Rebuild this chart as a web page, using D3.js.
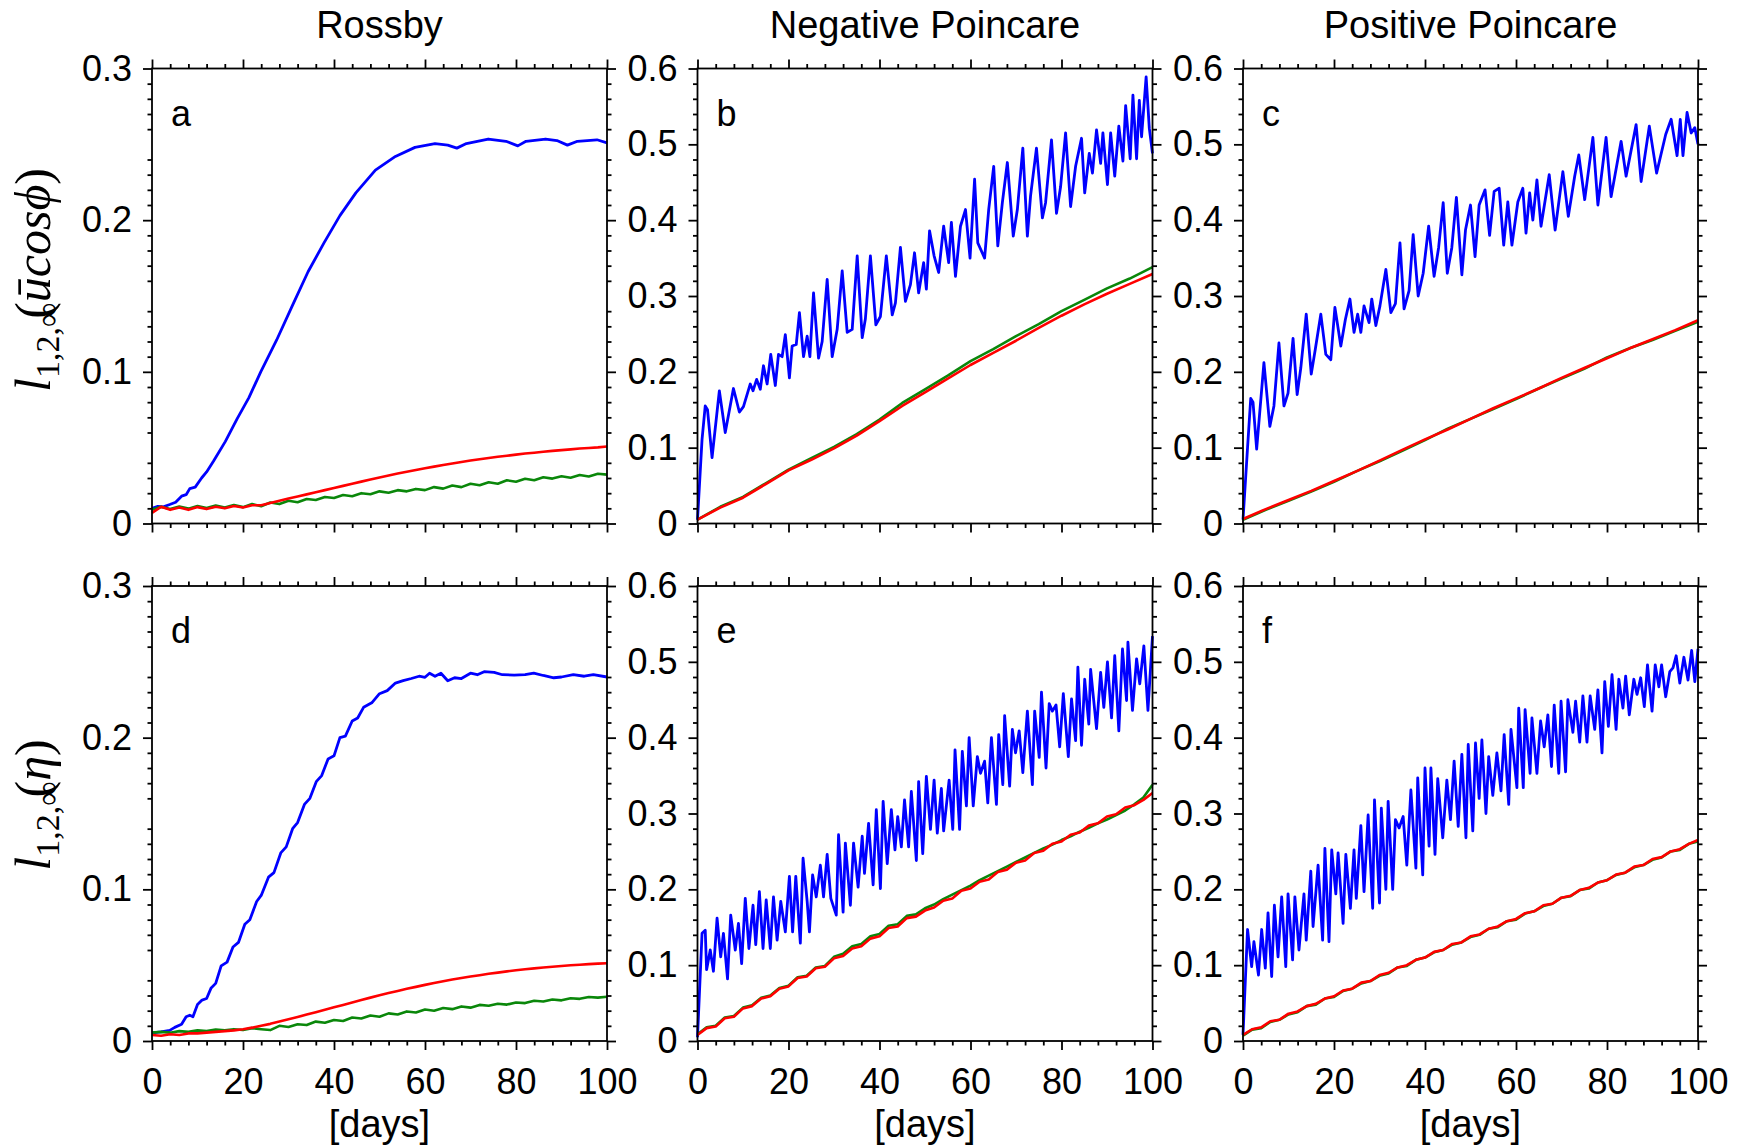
<!DOCTYPE html>
<html>
<head>
<meta charset="utf-8">
<script src="https://cdn.jsdelivr.net/npm/d3@7"></script>
<style>
body { margin: 0; background: #fff; }
text { font-family: "Liberation Sans", Arial, sans-serif; fill: #000; }
</style>
</head>
<body>
<script>

// column titles and panel letters
var columnTitles = ["Rossby", "Negative Poincare", "Positive Poincare"];
var panelLetters = ["a", "b", "c", "d", "e", "f"];

// tick values
var xMajor = [0, 20, 40, 60, 80, 100];
var yMajorSmall = [0, 0.1, 0.2, 0.3];
var yMajorBig = [0, 0.1, 0.2, 0.3, 0.4, 0.5, 0.6];

// evenly spaced days used by the slow lines
var days2 = [0,2,4,6,8,10,12,14,16,18,20,22,24,26,28,30,32,34,36,38,40,42,44,46,48,50,
             52,54,56,58,60,62,64,66,68,70,72,74,76,78,80,82,84,86,88,90,92,94,96,98,100];
var days5 = [0,5,10,15,20,25,30,35,40,45,50,55,60,65,70,75,80,85,90,95,100];

// ---- panel a (Rossby, u cos phi)
var blueA = [[0,0.010],[1.3,0.0113],[2.5,0.011],[3.9,0.0125],[5.2,0.014],[6.5,0.018],[7.5,0.019],[8.3,0.023],
  [9.5,0.024],[10.9,0.030],[12,0.034],[13.5,0.041],[16.1,0.054],[18.7,0.069],[21.3,0.083],[23.9,0.100],
  [27.4,0.121],[30.9,0.144],[34.3,0.166],[37.8,0.185],[41.3,0.203],[44.8,0.218],[49.1,0.233],[53.5,0.242],
  [57.8,0.248],[62.2,0.2505],[65,0.2495],[67,0.2475],[69.1,0.2505],[73.9,0.2535],[77.8,0.252],[80.4,0.249],
  [82.2,0.252],[86.5,0.2535],[89,0.2525],[91.3,0.2495],[93.5,0.252],[97.8,0.253],[100,0.251]];
var greenA = [0.009,0.011,0.0095,0.0112,0.0098,0.0115,0.0102,0.0118,0.0105,0.0122,0.0108,0.0128,0.0114,0.0138,
  0.0128,0.0150,0.0140,0.0162,0.0155,0.0175,0.0168,0.0188,0.0180,0.0200,0.0193,0.0212,0.0203,0.0220,0.0212,
  0.0228,0.0220,0.0240,0.0230,0.0250,0.0240,0.0262,0.0252,0.0272,0.0262,0.0285,0.0275,0.0295,0.0285,0.0305,
  0.0296,0.0312,0.0302,0.0320,0.0310,0.0328,0.0322];
var redA = [0.007,0.011,0.009,0.0105,0.009,0.0108,0.0095,0.011,0.010,0.0115,0.0105,0.012,0.012,0.0135,0.0150,
  0.0165,0.0178,0.0192,0.0206,0.0220,0.0234,0.0248,0.0262,0.0276,0.0290,0.0303,0.0316,0.0329,0.0341,0.0353,
  0.0364,0.0375,0.0386,0.0396,0.0406,0.0415,0.0424,0.0432,0.0440,0.0447,0.0454,0.0461,0.0467,0.0473,0.0479,
  0.0484,0.0489,0.0494,0.0498,0.0502,0.0508];

// ---- panel b (Negative Poincare, u cos phi)
var blueB = [[0,0.005],[1,0.111],[1.7,0.155],[2.2,0.150],[3.2,0.087],[4.8,0.175],[6.1,0.120],[7.9,0.178],
  [9.2,0.147],[10.1,0.154],[11.6,0.184],[12.2,0.175],[13,0.19],[13.8,0.177],[14.5,0.208],[15.3,0.184],
  [16.1,0.223],[17.1,0.182],[17.8,0.223],[18.6,0.22],[19.3,0.249],[20.2,0.192],[20.8,0.234],[21.7,0.236],
  [22.4,0.278],[23.3,0.22],[24.1,0.247],[24.7,0.22],[25.5,0.304],[26.6,0.218],[27.4,0.24],[28.5,0.322],
  [29.6,0.22],[30.7,0.256],[31.8,0.333],[32.9,0.252],[34,0.256],[35.1,0.353],[36.2,0.245],[36.9,0.27],
  [38,0.353],[39.2,0.262],[40.2,0.273],[41.5,0.353],[42.8,0.275],[43.5,0.291],[44.6,0.364],[45.7,0.293],
  [46.8,0.315],[47.7,0.357],[48.6,0.304],[49.7,0.344],[50.3,0.309],[51,0.386],[52,0.353],[53,0.331],
  [54.1,0.392],[55.2,0.344],[55.8,0.397],[56.7,0.326],[57.8,0.392],[58.9,0.414],[59.9,0.35],[60.9,0.454],
  [61.6,0.37],[63.1,0.35],[64,0.414],[65.1,0.471],[66,0.366],[67,0.423],[68.1,0.476],[69.4,0.379],
  [70.3,0.414],[71.5,0.495],[72.5,0.379],[73.2,0.432],[74.5,0.495],[75.8,0.403],[76.5,0.423],[77.8,0.506],
  [78.9,0.409],[79.8,0.444],[80.9,0.515],[82,0.418],[83.1,0.471],[84.4,0.508],[85.1,0.436],[86.1,0.488],
  [86.8,0.462],[87.7,0.519],[88.6,0.475],[89.1,0.515],[90.1,0.447],[90.8,0.515],[91.7,0.458],[92.6,0.524],
  [93.5,0.478],[94.1,0.551],[95.1,0.481],[95.7,0.565],[96.5,0.481],[97.1,0.558],[97.6,0.51],[98.6,0.589],
  [99.3,0.521],[100,0.488]];
var greenB = [0.005,0.022,0.035,0.053,0.071,0.086,0.101,0.118,0.137,0.159,0.177,0.195,0.214,0.230,0.247,
  0.263,0.280,0.295,0.310,0.323,0.338];
var redB = [0.005,0.021,0.034,0.052,0.070,0.084,0.099,0.116,0.135,0.155,0.173,0.191,0.209,0.225,0.241,
  0.258,0.274,0.289,0.303,0.316,0.329];

// ---- panel c (Positive Poincare, u cos phi)
var blueC = [[0,0.005],[1,0.10],[1.7,0.165],[2.2,0.16],[3,0.098],[4.6,0.212],[5.9,0.128],[6.8,0.155],
  [7.9,0.238],[9,0.155],[9.9,0.172],[11,0.244],[11.9,0.17],[12.7,0.205],[13.9,0.276],[15,0.197],[15.9,0.23],
  [17.1,0.276],[18.2,0.223],[19.3,0.216],[20.2,0.285],[21.5,0.234],[22.5,0.269],[23.5,0.296],[24.4,0.252],
  [25.2,0.276],[25.9,0.252],[26.6,0.287],[27.7,0.265],[28.3,0.296],[29.2,0.261],[30.1,0.287],[31.4,0.335],
  [32.5,0.278],[33.5,0.29],[34.5,0.37],[35.4,0.283],[36.5,0.307],[37.4,0.381],[38.5,0.3],[39.6,0.33],
  [40.8,0.392],[42,0.326],[43,0.364],[44,0.423],[44.9,0.33],[45.9,0.364],[46.9,0.43],[48.1,0.328],
  [48.9,0.387],[50,0.42],[51,0.352],[51.9,0.42],[53.2,0.44],[54.2,0.38],[55.2,0.438],[56.3,0.442],
  [57.3,0.367],[58.2,0.424],[59.1,0.367],[60.4,0.424],[61.5,0.442],[62.2,0.383],[63,0.436],[63.7,0.4],
  [64.6,0.453],[65.5,0.392],[67.3,0.46],[68.6,0.387],[70.3,0.464],[71.5,0.405],[72.9,0.458],[73.8,0.486],
  [75.1,0.427],[76.9,0.509],[78,0.42],[79.8,0.509],[80.9,0.431],[83.1,0.504],[84.2,0.458],[86.4,0.526],
  [87.5,0.451],[89.3,0.524],[90.9,0.462],[92.9,0.513],[94.1,0.533],[95.4,0.485],[96.1,0.533],[96.7,0.485],
  [97.6,0.542],[98.5,0.515],[99.3,0.522],[100,0.50]];
var greenC = [0.005,0.018,0.030,0.042,0.055,0.069,0.082,0.096,0.110,0.125,0.138,0.151,0.164,0.178,0.191,
  0.204,0.219,0.231,0.242,0.254,0.266];
var redC = [0.006,0.019,0.031,0.043,0.056,0.069,0.083,0.097,0.111,0.124,0.138,0.152,0.165,0.178,0.192,
  0.205,0.218,0.231,0.243,0.255,0.268];

// ---- panel d (Rossby, eta)
var blueD = [[0,0.0054],[2,0.006],[3.9,0.007],[5,0.009],[6.5,0.011],[7.5,0.016],[8.3,0.017],[9,0.016],
  [10,0.024],[11,0.027],[12,0.028],[13,0.035],[14,0.038],[15.2,0.0495],[16.5,0.052],[17.8,0.062],[19,0.065],
  [20.4,0.077],[21.5,0.080],[23,0.092],[24,0.096],[25.6,0.108],[26.8,0.111],[28.3,0.124],[29.5,0.128],
  [30.9,0.140],[32,0.144],[33.5,0.156],[34.7,0.160],[36.1,0.171],[37.3,0.175],[38.7,0.186],[40,0.188],
  [41.3,0.200],[42.5,0.201],[44,0.211],[45.2,0.213],[46.5,0.220],[48.3,0.223],[50,0.229],[51.7,0.231],
  [53.5,0.236],[55.2,0.2376],[57,0.239],[58.7,0.2405],[60,0.2398],[61,0.2425],[62.2,0.2405],[63.5,0.2425],
  [65,0.2375],[66.5,0.2395],[68,0.239],[70,0.2425],[71.5,0.2415],[73,0.2435],[75.2,0.243],[77,0.2415],
  [79.6,0.2413],[82,0.2415],[83.9,0.2426],[86,0.241],[88.3,0.2395],[90,0.24],[92.6,0.2415],[95,0.2405],
  [97,0.2415],[100,0.240]];
var greenD = [0.0055,0.006,0.0055,0.0065,0.006,0.007,0.0065,0.0075,0.007,0.0078,0.0072,0.0085,0.0078,0.0072,
  0.0100,0.0092,0.0110,0.0105,0.0128,0.0120,0.0138,0.0132,0.0155,0.0148,0.0168,0.0160,0.0182,0.0175,0.0195,
  0.0188,0.0208,0.0200,0.0218,0.0210,0.0228,0.0220,0.0238,0.0232,0.0246,0.0240,0.0254,0.0250,0.0265,0.0260,
  0.0274,0.0268,0.0282,0.0278,0.0290,0.0286,0.0292];
var redD = [0.004,0.0035,0.0045,0.004,0.005,0.005,0.0055,0.006,0.0065,0.007,0.0078,0.0088,0.010,0.0113,0.0128,
  0.0143,0.0158,0.0174,0.0190,0.0206,0.0222,0.0238,0.0254,0.0270,0.0286,0.0301,0.0316,0.0330,0.0344,0.0357,
  0.0370,0.0382,0.0394,0.0405,0.0415,0.0425,0.0434,0.0443,0.0451,0.0459,0.0466,0.0473,0.0479,0.0485,0.0490,
  0.0495,0.0499,0.0503,0.0507,0.0510,0.0513];

// ---- panel e (Negative Poincare, eta)
var blueE = [[0,0.005],[1,0.142],[1.7,0.146],[2,0.094],[2.8,0.12],[3.5,0.092],[4.3,0.162],[5.1,0.111],
  [5.7,0.142],[6.6,0.082],[7.3,0.166],[8.3,0.12],[9,0.155],[9.7,0.102],[10.5,0.188],[11.3,0.122],[12.2,0.179],
  [12.8,0.127],[13.6,0.197],[14.4,0.122],[15.1,0.186],[16,0.122],[16.7,0.19],[17.5,0.133],[18.3,0.184],
  [19.3,0.144],[20.2,0.217],[20.9,0.144],[21.6,0.217],[22.6,0.129],[23.2,0.241],[24.1,0.184],[24.6,0.144],
  [25.3,0.219],[26.1,0.19],[27,0.232],[27.7,0.19],[28.5,0.246],[29.3,0.188],[30.5,0.166],[31,0.272],
  [32,0.17],[32.5,0.261],[33.6,0.179],[34.3,0.261],[35.3,0.203],[36.2,0.27],[36.7,0.221],[37.6,0.287],
  [38.6,0.206],[39.3,0.305],[40.2,0.201],[40.8,0.316],[41.7,0.234],[42.6,0.305],[43.4,0.252],[44,0.296],
  [44.8,0.256],[45.5,0.318],[46.4,0.256],[47,0.329],[48.1,0.238],[48.6,0.342],[49.5,0.247],[50.3,0.349],
  [51.2,0.279],[52,0.344],[52.7,0.274],[53.6,0.333],[54.1,0.277],[55.3,0.344],[56.1,0.279],[56.6,0.384],
  [57.6,0.279],[58.2,0.382],[59.1,0.31],[59.7,0.4],[60.6,0.31],[61.5,0.375],[62.2,0.353],[63.1,0.369],
  [63.8,0.314],[64.6,0.4],[65.7,0.312],[66.2,0.404],[67.1,0.338],[67.5,0.429],[68.6,0.336],[69.2,0.411],
  [69.9,0.38],[70.7,0.409],[71.5,0.354],[72.5,0.435],[73.6,0.338],[74.1,0.435],[75.1,0.374],[75.6,0.46],
  [76.6,0.36],[77.3,0.445],[78,0.435],[78.8,0.443],[79.6,0.388],[80.4,0.458],[81.5,0.375],[82.2,0.451],
  [83.1,0.396],[83.6,0.493],[84.4,0.39],[85.1,0.477],[86,0.418],[86.4,0.49],[87.7,0.412],[88.6,0.486],
  [89.3,0.44],[90.1,0.5],[91,0.426],[91.7,0.508],[92.6,0.409],[93.4,0.517],[94.3,0.449],[94.6,0.526],
  [95.6,0.436],[96.5,0.504],[97.2,0.471],[98.1,0.521],[99,0.436],[100,0.534]];
var greenE = [0.009,0.018,0.020,0.031,0.033,0.044,0.047,0.057,0.060,0.070,0.073,0.084,0.086,0.097,0.099,0.111,
  0.115,0.125,0.128,0.138,0.141,0.152,0.154,0.165,0.167,0.175,0.180,0.187,0.193,0.199,0.205,0.212,0.218,0.224,
  0.230,0.236,0.242,0.248,0.254,0.259,0.265,0.270,0.276,0.281,0.287,0.292,0.298,0.304,0.312,0.321,0.338];
var redE = [0.008,0.017,0.019,0.030,0.032,0.043,0.046,0.056,0.059,0.069,0.072,0.083,0.085,0.096,0.098,0.109,
  0.112,0.122,0.125,0.135,0.138,0.149,0.151,0.162,0.164,0.172,0.176,0.185,0.188,0.198,0.201,0.210,0.213,0.223,
  0.226,0.235,0.238,0.248,0.251,0.260,0.263,0.272,0.275,0.284,0.287,0.296,0.299,0.308,0.311,0.318,0.327];

// ---- panel f (Positive Poincare, eta)
var blueF = [[0,0.008],[1,0.147],[1.9,0.098],[2.4,0.131],[3.4,0.087],[4.1,0.147],[4.9,0.096],[5.5,0.169],
  [6.3,0.085],[6.9,0.179],[7.7,0.111],[8.5,0.19],[9.4,0.098],[9.9,0.194],[10.9,0.107],[11.4,0.19],[12.3,0.12],
  [13.4,0.194],[13.9,0.133],[14.9,0.224],[15.4,0.151],[16.5,0.232],[17.5,0.133],[18,0.254],[18.9,0.131],
  [19.5,0.252],[20.4,0.194],[20.9,0.248],[22,0.155],[22.6,0.246],[23.6,0.175],[24.4,0.252],[24.9,0.188],
  [25.9,0.284],[26.6,0.197],[27.5,0.298],[28.5,0.175],[28.9,0.318],[30,0.182],[30.4,0.307],[31.4,0.2],
  [31.9,0.316],[32.9,0.2],[33.5,0.292],[34.3,0.281],[35.2,0.296],[36,0.232],[36.9,0.331],[38,0.228],
  [38.4,0.347],[39.5,0.219],[40,0.36],[40.9,0.257],[41.3,0.36],[42.2,0.246],[42.8,0.346],[43.9,0.268],
  [44.8,0.344],[45.6,0.292],[46.4,0.369],[47.3,0.283],[48.1,0.378],[49,0.268],[49.5,0.391],[50.5,0.277],
  [51.1,0.393],[51.9,0.32],[52.5,0.397],[53.4,0.3],[54,0.375],[54.9,0.324],[55.8,0.38],[56.7,0.33],
  [57.4,0.404],[58.4,0.312],[58.9,0.411],[60.2,0.334],[60.6,0.439],[61.6,0.334],[62,0.437],[63.1,0.353],
  [63.5,0.426],[64.6,0.353],[65.4,0.422],[66.2,0.388],[67,0.43],[67.8,0.362],[68.4,0.443],[69.4,0.353],
  [69.9,0.448],[70.9,0.355],[71.4,0.45],[72.5,0.407],[73.1,0.448],[74,0.394],[74.7,0.455],[75.6,0.394],
  [76.3,0.455],[77.3,0.411],[78,0.463],[78.9,0.38],[79.5,0.474],[80.3,0.415],[81.1,0.483],[82,0.411],
  [82.6,0.477],[83.5,0.439],[84.1,0.481],[84.9,0.43],[85.9,0.477],[86.6,0.457],[87.4,0.479],[88.2,0.441],
  [88.9,0.496],[89.9,0.435],[90.6,0.496],[91.4,0.467],[92,0.496],[92.9,0.454],[93.8,0.487],[94.5,0.492],
  [95.2,0.508],[96,0.472],[96.9,0.506],[97.8,0.476],[98.6,0.515],[99.3,0.474],[100,0.517]];
var greenF = [0.007,0.015,0.017,0.025,0.028,0.035,0.038,0.046,0.048,0.056,0.058,0.066,0.069,0.076,0.079,0.086,
  0.089,0.097,0.099,0.107,0.110,0.117,0.120,0.127,0.130,0.137,0.140,0.148,0.150,0.158,0.160,0.168,0.171,0.178,
  0.181,0.189,0.191,0.199,0.201,0.209,0.212,0.219,0.222,0.229,0.232,0.239,0.242,0.250,0.252,0.260,0.263];
var redF = [0.008,0.0155,0.018,0.026,0.028,0.036,0.039,0.046,0.049,0.056,0.059,0.0665,0.069,0.077,0.079,0.087,
  0.090,0.097,0.100,0.107,0.110,0.1175,0.120,0.128,0.130,0.138,0.1405,0.148,0.151,0.158,0.161,0.1685,0.171,
  0.179,0.181,0.189,0.1915,0.199,0.202,0.209,0.212,0.2195,0.222,0.230,0.232,0.240,0.2425,0.250,0.253,0.260,0.265];

//panel layout, positions measured on the reference
var plotLeft = 152, colStep = 545.5, plotTop = 68.5, rowStep = 517.5, plotSize = 455;

var panels = [
  {blue: blueA, green: d3.zip(days2, greenA), red: d3.zip(days2, redA), yMax: 0.3, ticks: yMajorSmall},
  {blue: blueB, green: d3.zip(days5, greenB), red: d3.zip(days5, redB), yMax: 0.6, ticks: yMajorBig},
  {blue: blueC, green: d3.zip(days5, greenC), red: d3.zip(days5, redC), yMax: 0.6, ticks: yMajorBig},
  {blue: blueD, green: d3.zip(days2, greenD), red: d3.zip(days2, redD), yMax: 0.3, ticks: yMajorSmall},
  {blue: blueE, green: d3.zip(days2, greenE), red: d3.zip(days2, redE), yMax: 0.6, ticks: yMajorBig},
  {blue: blueF, green: d3.zip(days2, greenF), red: d3.zip(days2, redF), yMax: 0.6, ticks: yMajorBig}
];

var svg = d3.select("body")
    .append("svg")
    .attr("width", 1743)
    .attr("height", 1148);

var x = d3.scaleLinear().domain([0, 100]).range([0, plotSize]);
var xMinor = d3.range(0, 101, 4).filter(function(d){ return d % 20 != 0; });

function yFormat(d){
    return d === 0 ? "0" : d3.format(".1f")(d);
}

//style the tick lines of an axis group
function styleAxis(g){
    g.select(".domain").remove();
    g.selectAll("line").attr("stroke", "#000").attr("stroke-width", 1.8);
    g.selectAll("text")
        .attr("font-family", "'Liberation Sans', Arial, sans-serif")
        .attr("font-size", 36)
        .attr("fill", "#000");
}

panels.forEach(function(p, i){
    var row = Math.floor(i / 3), col = i % 3;
    var g = svg.append("g")
        .attr("transform", "translate(" + (plotLeft + col * colStep) + "," + (plotTop + row * rowStep) + ")");

    var y = d3.scaleLinear().domain([0, p.yMax]).range([plotSize, 0]);
    var step = p.yMax / 30;
    var yMinor = d3.range(1, 30).filter(function(k){ return k % 5 != 0; }).map(function(k){ return k * step; });

    var line = d3.line()
        .x(function(d){ return x(d[0]); })
        .y(function(d){ return y(d[1]); });

    g.append("path").datum(p.blue)
        .attr("d", line).attr("fill", "none")
        .attr("stroke", "#0000ff").attr("stroke-width", 2.8).attr("stroke-linejoin", "round");
    g.append("path").datum(p.green)
        .attr("d", line).attr("fill", "none")
        .attr("stroke", "#0a870a").attr("stroke-width", 2.6).attr("stroke-linejoin", "round");
    g.append("path").datum(p.red)
        .attr("d", line).attr("fill", "none")
        .attr("stroke", "#ff0000").attr("stroke-width", 2.6).attr("stroke-linejoin", "round");

    // frame
    g.append("rect")
        .attr("width", plotSize).attr("height", plotSize)
        .attr("fill", "none").attr("stroke", "#000").attr("stroke-width", 1.8);

    // bottom
    g.append("g").attr("transform", "translate(0," + plotSize + ")")
        .call(d3.axisBottom(x).tickValues(xMajor).tickSize(9).tickPadding(18)
            .tickFormat(row == 1 ? d3.format("d") : ""))
        .call(styleAxis);
    g.append("g").attr("transform", "translate(0," + plotSize + ")")
        .call(d3.axisBottom(x).tickValues(xMinor).tickSize(4.5).tickFormat(""))
        .call(styleAxis);
    // top
    g.append("g").call(d3.axisTop(x).tickValues(xMajor).tickSize(9).tickFormat("")).call(styleAxis);
    g.append("g").call(d3.axisTop(x).tickValues(xMinor).tickSize(4.5).tickFormat("")).call(styleAxis);
    // left
    g.append("g").call(d3.axisLeft(y).tickValues(p.ticks).tickSize(9).tickPadding(11).tickFormat(yFormat))
        .call(styleAxis);
    g.append("g").call(d3.axisLeft(y).tickValues(yMinor).tickSize(4.5).tickFormat("")).call(styleAxis);
    // right
    g.append("g").attr("transform", "translate(" + plotSize + ",0)")
        .call(d3.axisRight(y).tickValues(p.ticks).tickSize(9).tickFormat("")).call(styleAxis);
    g.append("g").attr("transform", "translate(" + plotSize + ",0)")
        .call(d3.axisRight(y).tickValues(yMinor).tickSize(4.5).tickFormat("")).call(styleAxis);

    // panel letter
    g.append("text")
        .attr("x", 19).attr("y", 57)
        .attr("font-size", 36)
        .text(panelLetters[i]);

    if (row == 1){
        g.append("text")
            .attr("x", plotSize / 2).attr("y", plotSize + 96)
            .attr("text-anchor", "middle")
            .attr("font-size", 38)
            .text("[days]");
    }
});

// column titles
columnTitles.forEach(function(t, c){
    svg.append("text")
        .attr("x", plotLeft + c * colStep + plotSize / 2)
        .attr("y", 38)
        .attr("text-anchor", "middle")
        .attr("font-size", 38)
        .text(t);
});

// y axis labels, math style
function mathLabel(cy, inner){
    var t = svg.append("g")
        .attr("transform", "translate(50," + cy + ") rotate(-90)")
        .append("text")
        .attr("text-anchor", "middle")
        .style("font-family", "'Liberation Serif', 'DejaVu Serif', serif")
        .attr("font-size", 50);
    t.append("tspan").attr("font-style", "italic").text("l");
    t.append("tspan").attr("font-size", 34).attr("dy", 9).text("1,2,\u221e");
    t.append("tspan").attr("dy", -9).attr("dx", -16).text("(");
    t.append("tspan").attr("font-style", "italic").text(inner);
    t.append("tspan").text(")");
}
mathLabel(280, "\u016bcos\u03d5");
mathLabel(805, "\u03b7");

</script>
</body>
</html>
